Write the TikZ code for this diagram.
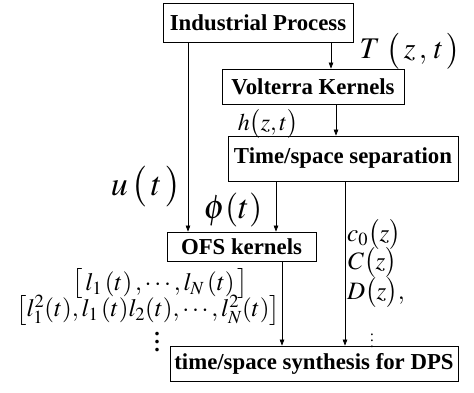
\documentclass[tikz,border=0pt]{standalone}
\usepackage{mathptmx}
\usepackage{fontspec}
\setmainfont{Liberation Serif}[BoldFont={Liberation Serif Bold}]
\usetikzlibrary{arrows.meta}
\begin{document}
\begin{tikzpicture}[x=1pt,y=-1pt,
  blk/.style={draw,line width=0.8pt,inner sep=0pt,align=center,
    font=\fontsize{22.8}{24}\selectfont\bfseries},
  arr/.style={line width=0.7pt,-{Triangle[length=6pt,width=4.5pt]}},
  lbl/.style={inner sep=0pt,anchor=center},
  dots/.style={inner sep=0pt,align=center}]
\useasboundingbox (0,0) rectangle (474,392);
\node[blk,minimum width=190pt,minimum height=39pt] (ip) at (258,22.5) {Industrial Process};
\node[blk,minimum width=182pt,minimum height=35pt] (vk) at (313,86.5) {Volterra Kernels};
\node[blk,minimum width=230pt,minimum height=45pt] (ts) at (343,158.5) {Time/space separation};
\node[blk,minimum width=149pt,minimum height=29pt] (ofs) at (241.5,246.5) {OFS kernels};
\node[blk,minimum width=288pt,minimum height=35pt] (syn) at (314,363.5) {time/space synthesis for DPS};
% connectors
\draw[arr] ([xshift=73pt]ip.south) -- ([xshift=73pt]ip.south |- vk.north);
\draw[arr] ([xshift=-70pt]ip.south) -- ([xshift=-70pt]ip.south |- ofs.north);
\draw[arr] ([xshift=23pt]vk.south) -- ([xshift=23pt]vk.south |- ts.north);
\draw[arr] ([xshift=-67pt]ts.south) -- ([xshift=-67pt]ts.south |- ofs.north);
\draw[arr] ([xshift=2pt]ts.south) -- ([xshift=2pt]ts.south |- syn.north);
\draw[arr] ([xshift=40.5pt]ofs.south) -- ([xshift=40.5pt]ofs.south |- syn.north);
% labels
\node[lbl,font=\fontsize{30}{31}\selectfont] (T) at (410,51) {$T\;\bigl(\,z\,,\,t\,\bigr)$};
\node[lbl,font=\fontsize{24}{26}\selectfont] (h) at (268,124) {$h\bigl(z,t\bigr)$};
\node[lbl,font=\fontsize{34}{36}\selectfont] (u) at (146,187) {$u\,\bigl(\,t\,\bigr)$};
\node[lbl,font=\fontsize{34}{36}\selectfont] (phi) at (233,210) {$\phi(t)$};
\node[lbl,font=\fontsize{25}{26}\selectfont,anchor=west] (c0) at (347,235) {$c_0\bigl(z\bigr)$};
\node[lbl,font=\fontsize{25}{26}\selectfont,anchor=west] (C) at (348,263) {$C\bigl(z\bigr)$};
\node[lbl,font=\fontsize{25}{26}\selectfont,anchor=west] (D) at (347,293) {$D\bigl(z\bigr),$};
\node[lbl,font=\fontsize{25}{27}\selectfont] (l1) at (160,284) {$\bigl[\,l_1\,(t)\,,\cdots,l_N\,(t)\,\bigr]$};
\node[lbl,font=\fontsize{25}{27}\selectfont] (l2) at (148,310) {$\bigl[l_1^2(t),l_1\,(t)l_2(t),\cdots,l_N^2(t)\bigr]$};
\node[dots,font=\fontsize{22}{8}\selectfont\bfseries] (vd2) at (157,342) {.\\.\\.};
\node[dots,font=\fontsize{15}{6}\selectfont] (vd1) at (372,341) {.\\.\\.};
\end{tikzpicture}
\end{document}
